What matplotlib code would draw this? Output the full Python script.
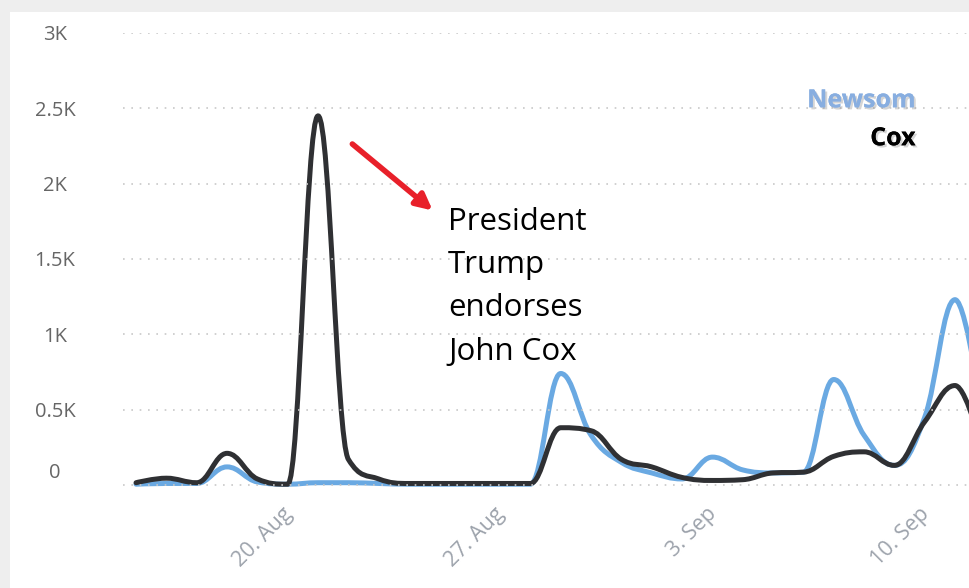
import matplotlib
matplotlib.use("Agg")
import matplotlib.pyplot as plt
import matplotlib.dates as mdates
import matplotlib.patheffects as pe
import matplotlib.transforms as mtransforms
from matplotlib.path import Path
from matplotlib.patches import PathPatch, Rectangle
from datetime import datetime, timedelta

# daily counts, 14 Aug - 11 Sep
start = datetime(2018, 8, 14, 12)
dates = [start + timedelta(days=i) for i in range(29)]
newsom = [5, 10, 10, 120, 20, 5, 15, 15, 10, 5, 5, 5, 5, 5,
          740, 330, 150, 80, 40, 185, 100, 80, 85, 700, 330, 130, 450, 1230, 300]
cox = [15, 45, 15, 210, 40, 5, 2450, 170, 40, 10, 10, 10, 10, 10,
       380, 360, 170, 120, 50, 30, 35, 80, 85, 190, 220, 130, 420, 660, 150]

yticks = [0, 500, 1000, 1500, 2000, 2500, 3000]
ylabels = ["", "0.5K", "1K", "1.5K", "2K", "2.5K", "3K"]
xticks = [datetime(2018, 8, 20), datetime(2018, 8, 27),
          datetime(2018, 9, 3), datetime(2018, 9, 10)]
xlabels = ["20. Aug", "27. Aug", "3. Sep", "10. Sep"]

blue = "#6aa9e2"
dark = "#2f3033"


def spline_path(x, y, smoothing=1.5):
    # smooth curve through the points, same idea as a Highcharts spline
    verts = [(x[0], y[0])]
    codes = [Path.MOVETO]
    prev_right = (x[0], y[0])
    n = len(x)
    d = smoothing + 1
    for i in range(1, n):
        if i < n - 1:
            lx = (smoothing * x[i] + x[i - 1]) / d
            ly = (smoothing * y[i] + y[i - 1]) / d
            rx = (smoothing * x[i] + x[i + 1]) / d
            ry = (smoothing * y[i] + y[i + 1]) / d
            if rx != lx:
                corr = (ry - ly) * (rx - x[i]) / (rx - lx) + y[i] - ry
                ly += corr
                ry += corr
            if ly > y[i - 1] and ly > y[i]:
                ly = max(y[i - 1], y[i])
                ry = 2 * y[i] - ly
            elif ly < y[i - 1] and ly < y[i]:
                ly = min(y[i - 1], y[i])
                ry = 2 * y[i] - ly
            if ry > y[i + 1] and ry > y[i]:
                ry = max(y[i + 1], y[i])
                ly = 2 * y[i] - ry
            elif ry < y[i + 1] and ry < y[i]:
                ry = min(y[i + 1], y[i])
                ly = 2 * y[i] - ry
            left, right = (lx, ly), (rx, ry)
        else:
            left, right = (x[i], y[i]), None
        verts += [prev_right, left, (x[i], y[i])]
        codes += [Path.CURVE4] * 3
        prev_right = right
    return Path(verts, codes)


fig = plt.figure(figsize=(9.69, 5.88), dpi=100, facecolor="#eeeeee")
fig.patches.append(Rectangle((10 / 969, 0), 1, 1 - 12 / 588, transform=fig.transFigure,
                             facecolor="white", edgecolor="none", zorder=-5))
ax = fig.add_axes([123 / 969, 97 / 588, 846 / 969, 458 / 588])
ax.set_facecolor("none")
ax.set_zorder(2)

xnum = mdates.date2num(dates)
for vals, col in [(newsom, blue), (cox, dark)]:
    ax.add_patch(PathPatch(spline_path(list(xnum), vals), fill=False, edgecolor=col,
                           lw=3.6, capstyle="round", joinstyle="round"))

ax.set_xlim(start - timedelta(days=0.43), start + timedelta(days=27.46))
ax.set_ylim(-40, 3000)
for s in ax.spines.values():
    s.set_visible(False)

ax.set_yticks(yticks)
ax.set_yticklabels(ylabels, fontsize=14.5, color="#666666", family="Open Sans")
ax.tick_params(axis="y", length=0, pad=49)
for lbl in ax.get_yticklabels():
    lbl.set_horizontalalignment("center")
ax.annotate("0", xy=(0, 0), xycoords=("axes fraction", "data"), xytext=(-68, 12),
            textcoords="offset pixels", ha="center", va="center",
            fontsize=14.5, color="#666666", family="Open Sans", annotation_clip=False)
ax.grid(axis="y", color="#c8c8c8", lw=1.2, linestyle=(0, (1, 4)))

ax.set_xticks(mdates.date2num(xticks))
ax.set_xticklabels(xlabels, fontsize=15.5, color="#9ca2ab", family="Open Sans",
                   rotation=45, ha="right", rotation_mode="anchor", va="center")
ax.tick_params(axis="x", length=0, pad=14)
shift = mtransforms.ScaledTranslation(-14 / 100, 0, fig.dpi_scale_trans)
for lbl in ax.get_xticklabels():
    lbl.set_transform(lbl.get_transform() + shift)

ax.annotate("", xy=(start + timedelta(days=9.85), 1810),
            xytext=(start + timedelta(days=7.06), 2275),
            arrowprops=dict(arrowstyle="-|>", color="#e8202a", lw=4, mutation_scale=24))
ax.text(start + timedelta(days=10.29), 1848, "President\nTrump\nendorses\nJohn Cox",
        fontsize=22.5, family="Open Sans", color="black", va="top", ha="left",
        linespacing=1.58)

shadow = [pe.withSimplePatchShadow(offset=(1.5, -1.5), shadow_rgbFace="#888888", alpha=0.35),
          pe.Normal()]
ax.text(0.937, 0.852, "Newsom", transform=ax.transAxes, ha="right", va="center",
        fontsize=18, fontweight="bold", family="Open Sans", color="#88aee0",
        path_effects=shadow)
ax.text(0.937, 0.769, "Cox", transform=ax.transAxes, ha="right", va="center",
        fontsize=18, fontweight="bold", family="Open Sans", color="black",
        path_effects=shadow)

fig.savefig("out.png", dpi=100, facecolor=fig.get_facecolor())
